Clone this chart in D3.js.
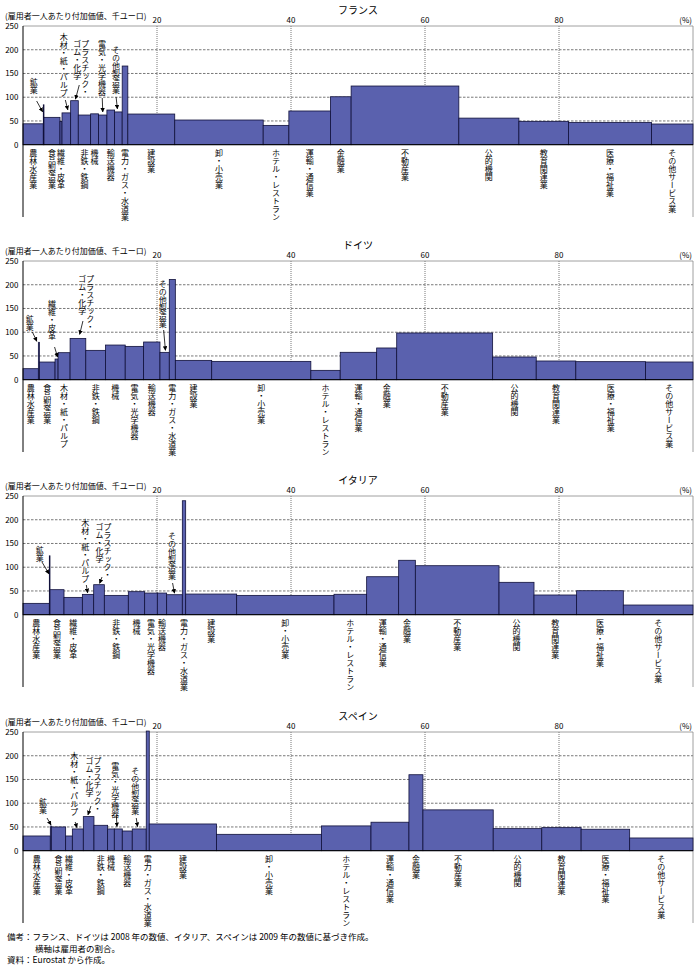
<!DOCTYPE html>
<html><head><meta charset="utf-8">
<script src="https://cdn.jsdelivr.net/npm/d3@7"></script>
<style>
body{margin:0;background:#fff}
text{font-family:"Noto Sans CJK JP","Noto Sans",sans-serif;fill:#000}
</style>
</head><body>
<svg id="c" width="700" height="973"></svg>
<script>
// ---------- data ----------
const categories = ["農林水産業","鉱業","食品製造業","繊維・皮革","木材・紙・パルプ","プラスチック・ゴム・化学","非鉄・鉄鋼","機械","電気・光学機器","輸送機器","その他製造業","電力・ガス・水道業","建設業","卸・小売業","ホテル・レストラン","運輸・通信業","金融業","不動産業","公的機関","教育関連業","医療・福祉業","その他サービス業"];

// employment share (%) = bar width, value added per employee (thousand EUR) = bar height
const franceShare = [3.03,0.1,2.39,0.3,1.29,1.14,1.84,1.19,1.24,1.15,1.13,0.84,7.0,13.2,3.83,6.2,3.09,16.07,8.96,7.4,12.4,6.18];
const franceValue = [44,84,57.6,49,67,92.7,62.5,65,62.5,73,69,165.7,64.6,52,40.7,71,101,123.6,56,49.2,47,43.6];

const germanyShare = [2.29,0.15,2.34,0.45,1.79,2.34,2.94,2.94,2.74,2.44,1.39,0.9,5.42,14.78,4.38,5.43,2.99,14.3,6.5,5.9,10.4,7.07];
const germanyValue = [23.2,78.7,37.2,43.5,56.9,87,61.8,73,70.2,79.4,57.6,211,40.7,38.6,19.7,57.7,66.8,98.4,47.8,39.4,38,37.3];

const italyShare = [3.93,0.1,2.09,2.74,1.69,1.59,3.58,2.44,1.89,1.39,2.34,0.5,7.61,14.53,4.87,4.78,2.49,12.49,5.22,6.36,6.97,10.4];
const italyValue = [23.9,124,52.7,36.5,42.8,63.2,40.7,48.5,45.6,45.6,42.1,240,43.5,40.7,43,80,114.6,103.2,68.2,41.5,50.5,20.4];

const spainShare = [4.08,0.15,2.14,1.0,1.64,1.59,2.04,1.0,1.19,1.49,2.09,0.45,10.05,15.67,7.4,5.67,2.09,10.5,7.25,5.88,7.25,9.46];
const spainValue = [31,52,50,31,45.8,71.8,53.5,45.8,45.8,41.5,45.8,252,56.3,34.5,52.2,60,160,86,46.5,48.6,45.2,26.8];

const countries = ["フランス","ドイツ","イタリア","スペイン"];
const yTicks = [0,50,100,150,200,250];
const xTicks = [20,40,60,80];

// labels written under the axis
const franceBottom = ["農林水産業","食品製造業","繊維・皮革","非鉄・鉄鋼","機械","輸送機器","電力・ガス・水道業","建設業","卸・小売業","ホテル・レストラン","運輸・通信業","金融業","不動産業","公的機関","教育関連業","医療・福祉業","その他サービス業"];
const germanyBottom = ["農林水産業","食品製造業","木材・紙・パルプ","非鉄・鉄鋼","機械","電気・光学機器","輸送機器","電力・ガス・水道業","建設業","卸・小売業","ホテル・レストラン","運輸・通信業","金融業","不動産業","公的機関","教育関連業","医療・福祉業","その他サービス業"];
const italyBottom = ["農林水産業","食品製造業","繊維・皮革","非鉄・鉄鋼","機械","電気・光学機器","輸送機器","電力・ガス・水道業","建設業","卸・小売業","ホテル・レストラン","運輸・通信業","金融業","不動産業","公的機関","教育関連業","医療・福祉業","その他サービス業"];
const spainBottom = ["農林水産業","食品製造業","繊維・皮革","非鉄・鉄鋼","機械","輸送機器","電力・ガス・水道業","建設業","卸・小売業","ホテル・レストラン","運輸・通信業","金融業","不動産業","公的機関","教育関連業","医療・福祉業","その他サービス業"];

// ---------- layout of the call-out labels above bars (pixels) ----------
const franceAnn = [
  {cat:"鉱業", cols:["鉱業"], dx:-10, ty:78, ax:-7, ay:101, ex:-1, ey:7},
  {cat:"木材・紙・パルプ", cols:["木材・紙・パルプ"], dx:-2.7, ty:33, ax:-1, ay:100, ex:1.5, ey:-3},
  {cat:"プラスチック・ゴム・化学", cols:["プラスチック・","ゴム・化学"], dx:10.8, ty:40, ax:4.8, ay:85, ex:1, ey:-1.5},
  {cat:"電気・光学機器", cols:["電気・光学機器"], dx:-0.8, ty:40, ax:-0.5, ay:98, ex:0, ey:-3},
  {cat:"その他製造業", cols:["その他製造業"], dx:-2.3, ty:46, ax:-2.3, ay:97, ex:-1, ey:-3}
];
const germanyAnn = [
  {cat:"鉱業", cols:["鉱業"], dx:-9.2, ty:80, ax:-6.5, ay:97, ex:-2, ey:-1},
  {cat:"繊維・皮革", cols:["繊維・皮革"], dx:-4.5, ty:65, ax:-2, ay:112, ex:1, ey:-2},
  {cat:"プラスチック・ゴム・化学", cols:["プラスチック・","ゴム・化学"], dx:12.4, ty:40, ax:5, ay:86, ex:1.7, ey:-4},
  {cat:"その他製造業", cols:["その他製造業"], dx:-1.9, ty:45, ax:-1, ay:95, ex:0.8, ey:-2}
];
const italyAnn = [
  {cat:"鉱業", cols:["鉱業"], dx:-10, ty:76, ax:-7.7, ay:92, ex:-0.7, ey:18},
  {cat:"木材・紙・パルプ", cols:["木材・紙・パルプ"], dx:-2.7, ty:49, ax:-1.7, ay:115, ex:-0.4, ey:-1.6},
  {cat:"プラスチック・ゴム・化学", cols:["プラスチック・","ゴム・化学"], dx:8.6, ty:53, ax:3, ay:107, ex:0.6, ey:-1.4},
  {cat:"その他製造業", cols:["その他製造業"], dx:-2.5, ty:62, ax:-1.9, ay:113, ex:0, ey:-1.5}
];
const spainAnn = [
  {cat:"鉱業", cols:["鉱業"], dx:-7.8, ty:92, ax:-3.8, ay:112, ex:0.2, ey:-1},
  {cat:"木材・紙・パルプ", cols:["木材・紙・パルプ"], dx:-3.6, ty:46, ax:-2.6, ay:116, ex:-0.9, ey:-1.3},
  {cat:"プラスチック・ゴム・化学", cols:["プラスチック・","ゴム・化学"], dx:8.9, ty:51, ax:2.3, ay:100, ex:-0.7, ey:-1.7},
  {cat:"電気・光学機器", cols:["電気・光学機器"], dx:-3, ty:56, ax:-2, ay:109, ex:-1.3, ey:-2.3},
  {cat:"その他製造業", cols:["その他製造業"], dx:-4, ty:61, ax:-3, ay:112, ex:-1.7, ey:-2.3}
];

const panels = [
  {name:countries[0], share:franceShare, value:franceValue, bottom:franceBottom, ann:franceAnn, oy:0},
  {name:countries[1], share:germanyShare, value:germanyValue, bottom:germanyBottom, ann:germanyAnn, oy:235},
  {name:countries[2], share:italyShare, value:italyValue, bottom:italyBottom, ann:italyAnn, oy:470},
  {name:countries[3], share:spainShare, value:spainValue, bottom:spainBottom, ann:spainAnn, oy:706}
];

// ---------- drawing ----------
const svg = d3.select("#c");
const BAR = "#5a61ae";
const x = d3.scaleLinear().domain([0,100]).range([23,693]);
const y = d3.scaleLinear().domain([0,250]).range([144.7,26]);
const BOTTOM = 217;

svg.append("defs").append("marker")
  .attr("id","ah").attr("viewBox","0 0 6 6").attr("refX",5.5).attr("refY",3)
  .attr("markerWidth",4.5).attr("markerHeight",4.5).attr("markerUnits","userSpaceOnUse")
  .attr("orient","auto")
  .append("path").attr("d","M0,0L6,3L0,6z").attr("fill","#000");

function vtext(g, tx, ty, str, size){
  g.append("text").attr("x",tx).attr("y",ty)
    .style("writing-mode","vertical-rl")
    .style("font-size",(size||8)+"px")
    .text(str);
}

panels.forEach(p => {
  const g = svg.append("g").attr("transform",`translate(0,${p.oy})`);
  const total = d3.sum(p.share);
  let cum = 0;
  const bars = categories.map((c,i) => {
    const x0 = cum/total*100; cum += p.share[i];
    const x1 = cum/total*100;
    return {cat:c, x0, x1, v:p.value[i]};
  });
  const byCat = new Map(bars.map(b => [b.cat,b]));

  // title
  g.append("text").attr("x",(x.range()[0]+x.range()[1])/2).attr("y",13.5)
    .attr("text-anchor","middle").style("font-size","10px").text(p.name);
  g.append("text").attr("x",5).attr("y",18.5).style("font-size","8px")
    .text("(雇用者一人あたり付加価値、千ユーロ)");

  // grid
  g.selectAll(".hg").data(yTicks.filter(t => t>0 && t<250)).join("line")
    .attr("x1",x(0)).attr("x2",x(100)).attr("y1",d=>y(d)).attr("y2",d=>y(d))
    .attr("stroke","#555").attr("stroke-width",0.8).attr("stroke-dasharray","2.5,1.5");
  g.selectAll(".vg").data(xTicks).join("line")
    .attr("x1",d=>x(d)).attr("x2",d=>x(d)).attr("y1",y(250)).attr("y2",y(0))
    .attr("stroke","#555").attr("stroke-width",0.8).attr("stroke-dasharray","1,1");
  // frame top and right
  g.append("line").attr("x1",x(0)).attr("x2",x(100)).attr("y1",y(250)).attr("y2",y(250))
    .attr("stroke","#888").attr("stroke-width",0.8);
  g.append("line").attr("x1",x(100)).attr("x2",x(100)).attr("y1",y(250)).attr("y2",BOTTOM)
    .attr("stroke","#888").attr("stroke-width",0.8);

  // x tick labels (top)
  g.selectAll(".xt").data(xTicks).join("text")
    .attr("x",d=>x(d)).attr("y",23).attr("text-anchor","middle").style("font-size","8px").text(d=>d);
  g.append("text").attr("x",x(100)-1).attr("y",23).attr("text-anchor","end").style("font-size","8px").style("fill","#000").text("(%)");

  // y tick labels
  g.selectAll(".yt").data(yTicks).join("text")
    .attr("x",18.5).attr("y",d=>y(d)+3).attr("text-anchor","end").style("font-size","8px").text(d=>d);

  // bars
  g.selectAll(".bar").data(bars).join("rect")
    .attr("x",d=>x(d.x0)).attr("width",d=>Math.max(0.4,x(d.x1)-x(d.x0)))
    .attr("y",d=>y(d.v)).attr("height",d=>y(0)-y(d.v))
    .attr("fill",BAR).attr("stroke","#10103a").attr("stroke-width",0.8);

  // axes lines
  g.append("line").attr("x1",x(0)).attr("x2",x(100)).attr("y1",y(0)).attr("y2",y(0))
    .attr("stroke","#000").attr("stroke-width",1);
  g.append("line").attr("x1",x(0)).attr("x2",x(0)).attr("y1",y(250)).attr("y2",BOTTOM)
    .attr("stroke","#000").attr("stroke-width",1);

  // bottom labels
  p.bottom.forEach(c => {
    const b = byCat.get(c);
    vtext(g, x((b.x0+b.x1)/2), 149, c);
  });

  // call-outs
  p.ann.forEach(a => {
    const b = byCat.get(a.cat);
    const cx = x((b.x0+b.x1)/2);
    a.cols.forEach((t,k) => vtext(g, cx + a.dx - k*8, a.ty, t));
    g.append("line").attr("x1",cx + a.ax).attr("y1",a.ay)
      .attr("x2",cx + a.ex).attr("y2",y(b.v) + a.ey)
      .attr("stroke","#000").attr("stroke-width",0.8).attr("marker-end","url(#ah)");
  });
});

// notes
const notes = [
  {t:"備考：フランス、ドイツは 2008 年の数値、イタリア、スペインは 2009 年の数値に基づき作成。", x:7, y:940},
  {t:"横軸は雇用者の割合。", x:35, y:951.5},
  {t:"資料：Eurostat から作成。", x:7, y:963}
];
svg.selectAll(".note").data(notes).join("text")
  .attr("x",d=>d.x).attr("y",d=>d.y).style("font-size","8.5px").text(d=>d.t);
</script>
</body></html>
